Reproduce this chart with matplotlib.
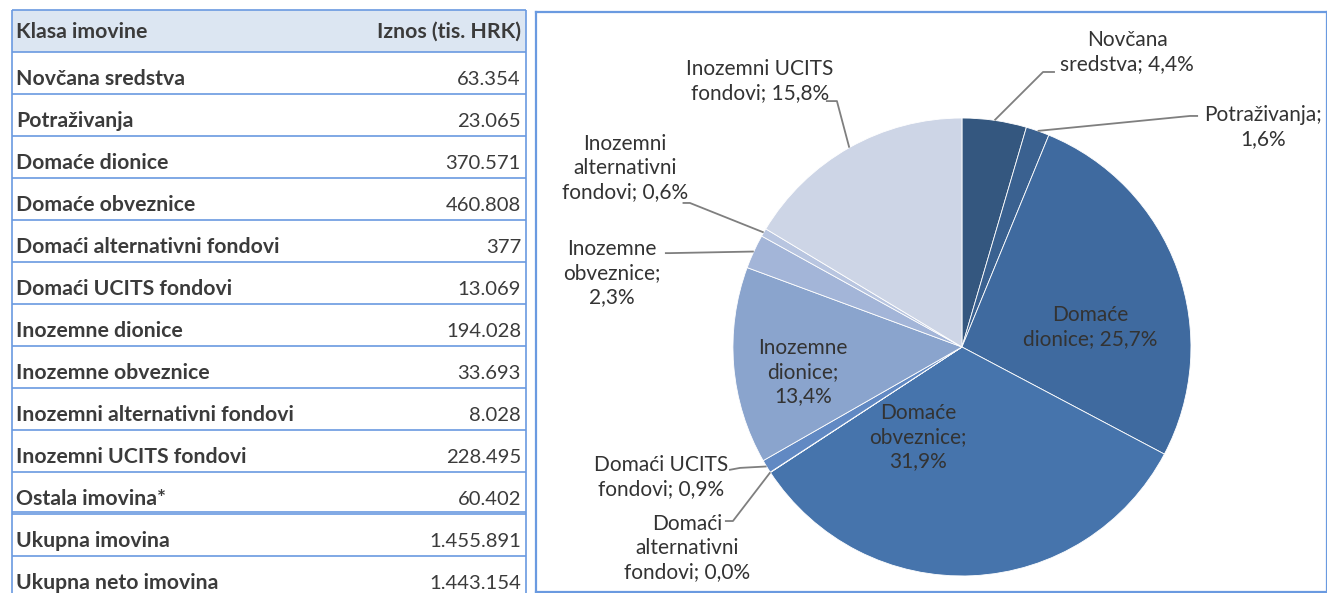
import matplotlib
matplotlib.use("Agg")
import matplotlib.pyplot as plt
from matplotlib.patches import Rectangle
import numpy as np

# table data (tis. HRK)
row_names = ["Novčana sredstva", "Potraživanja", "Domaće dionice", "Domaće obveznice",
             "Domaći alternativni fondovi", "Domaći UCITS fondovi", "Inozemne dionice",
             "Inozemne obveznice", "Inozemni alternativni fondovi", "Inozemni UCITS fondovi",
             "Ostala imovina*"]
row_values = [63354, 23065, 370571, 460808, 377, 13069, 194028, 33693, 8028, 228495, 60402]
total_names = ["Ukupna imovina", "Ukupna neto imovina"]
total_values = [1455891, 1443154]
header = ["Klasa imovine", "Iznos (tis. HRK)"]

# pie uses the first 10 classes, label % is share of net assets
pie_values = row_values[:10]
pie_label_fmt = ["Novčana\nsredstva; {}", "Potraživanja;\n{}", "Domaće\ndionice; {}",
                 "Domaće\nobveznice;\n{}", "Domaći\nalternativni\nfondovi; {}",
                 "Domaći UCITS\nfondovi; {}", "Inozemne\ndionice;\n{}",
                 "Inozemne\nobveznice;\n{}", "Inozemni\nalternativni\nfondovi; {}",
                 "Inozemni UCITS\nfondovi; {}"]
pie_colors = ["#34577f", "#3a6190", "#3f6a9f", "#4674ac", "#5680bb", "#6189c3",
              "#8aa4cd", "#a3b5d8", "#b8c5e0", "#cdd5e6"]

# label layout (pie radius units): text centre, leader elbow, leader stub end (None = inside)
label_pos = [(0.721, 1.288), (1.314, 0.961), (0.559, 0.087), (-0.192, -0.393),
             (-1.201, -0.878), (-1.314, -0.568), (-0.694, -0.109), (-1.528, 0.323),
             (-1.472, 0.782), (-0.882, 1.162)]
leader = [((0.354, 1.201), (0.406, 1.201)), ((0.996, 1.009), (1.031, 1.009)), None, None,
          ((-1.0, -0.760), (-1.035, -0.760)), ((-0.969, -0.528), (-1.017, -0.537)), None,
          ((-1.275, 0.410), (-1.297, 0.410)), ((-1.188, 0.629), (-1.22, 0.629)),
          ((-0.546, 1.074), (-0.594, 1.074))]

W, H = 1327, 593
border = "#6a9ae0"
txt = "#3b3b3b"


def fmt_num(v):
    return f"{v:,}".replace(",", ".")


def fmt_pct(v, tot):
    return f"{v / tot * 100:.1f}".replace(".", ",") + "%"


fig = plt.figure(figsize=(W / 100, H / 100), dpi=100)

# ---- table ----
tab = fig.add_axes([0, 0, 1, 1])
tab.set_xlim(0, W)
tab.set_ylim(H, 0)
tab.axis("off")

x0, x1 = 12, 526
top, hdr_h, row_h = 10, 42, 42
tab.add_patch(Rectangle((x0, top), x1 - x0, hdr_h, facecolor="#dce6f2", edgecolor="none"))
fam = ["Lato", "DejaVu Sans"]
bfont = dict(family=fam, fontsize=15.3, color=txt, fontweight="bold")
vfont = dict(family=fam, fontsize=14.6, color=txt)
tab.text(x0 + 4, top + hdr_h - 14, header[0], ha="left", va="baseline", **bfont)
tab.text(x1 - 5, top + hdr_h - 14, header[1], ha="right", va="baseline", **bfont)

names = row_names + total_names
vals = row_values + total_values
y = top + hdr_h
lines_y = [top, y]
for i, (n, v) in enumerate(zip(names, vals)):
    yb = y + row_h
    tab.text(x0 + 4, yb - 9, n, ha="left", va="baseline", **bfont)
    tab.text(x1 - 5, yb - 9, fmt_num(v), ha="right", va="baseline", **vfont)
    lines_y.append(yb)
    y = yb
tab.hlines(lines_y, x0, x1, color=border, lw=1.2)
# double line under "Ostala imovina*"
tab.hlines(lines_y[len(row_names) + 1] - 2.5, x0, x1, color=border, lw=1.2)
tab.vlines([x0, x1], top, H, color=border, lw=1.2)

# ---- pie ----
ax = fig.add_axes([536 / W, 1 / H, 791 / W, 580 / H])
wedges, _ = ax.pie(pie_values, startangle=90, counterclock=False, colors=pie_colors,
                   wedgeprops=dict(edgecolor="white", linewidth=0.6))
net = total_values[1]
pfont = dict(family=fam, fontsize=15, color="#333333")
for w, v, f, pos, ld in zip(wedges, pie_values, pie_label_fmt, label_pos, leader):
    ax.text(pos[0], pos[1], f.format(fmt_pct(v, net)), ha="center", va="center",
            linespacing=1.25, **pfont)
    if ld is not None:
        mid = np.deg2rad((w.theta1 + w.theta2) / 2)
        ax_pt = (np.cos(mid), np.sin(mid))
        ax.plot([ax_pt[0], ld[0][0], ld[1][0]], [ax_pt[1], ld[0][1], ld[1][1]],
                color="#7f7f7f", lw=1.3, solid_capstyle="butt")

ax.set_xlim(-1.860, 1.594)
ax.set_ylim(-1.070, 1.463)
ax.set_aspect("auto")
ax.set_frame_on(True)
for s in ax.spines.values():
    s.set_color(border)
    s.set_linewidth(1.6)
ax.set_xticks([])
ax.set_yticks([])

fig.savefig("out.png", dpi=100)
